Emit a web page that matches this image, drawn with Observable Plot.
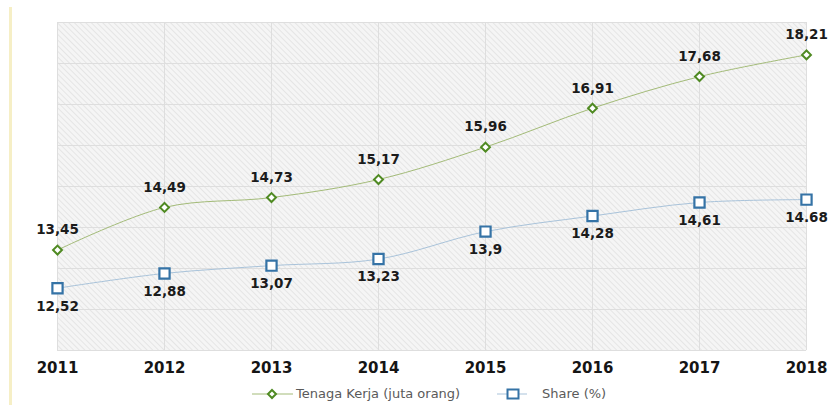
<!DOCTYPE html>
<html>
<head>
<meta charset="utf-8">
<script src="https://cdn.jsdelivr.net/npm/d3@7"></script>
<script src="https://cdn.jsdelivr.net/npm/@observablehq/plot@0.6"></script>
<style>
  body { margin: 0; background: #ffffff; font-family: "DejaVu Sans", sans-serif; }
  #wrap { position: relative; width: 830px; height: 405px; overflow: hidden; }
  #stripe { position: absolute; left: 9px; top: 7px; width: 3px; height: 398px; background: #f6efc6; }
  #chart { position: absolute; left: 0; top: 0; }
  #legend { position: absolute; left: 0; top: 385px; width: 830px; height: 18px; font-size: 13px; color: #5a5a5a; }
  .item { position: absolute; top: 0; height: 18px; white-space: nowrap; }
  .item svg { position: absolute; left: 0; top: 0; }
  .item span { position: absolute; top: 0; line-height: 18px; }
</style>
</head>
<body>
<div id="wrap">
  <div id="stripe"></div>
  <div id="chart"></div>
  <div id="legend"></div>
</div>
<script>
// ---- data ----
const years = [2011, 2012, 2013, 2014, 2015, 2016, 2017, 2018];
const tenagaKerja = [13.45, 14.49, 14.73, 15.17, 15.96, 16.91, 17.68, 18.21];
const share = [12.52, 12.88, 13.07, 13.23, 13.9, 14.28, 14.61, 14.68];
const tenagaLabels = ["13,45", "14,49", "14,73", "15,17", "15,96", "16,91", "17,68", "18,21"];
const shareLabels = ["12,52", "12,88", "13,07", "13,23", "13,9", "14,28", "14,61", "14.68"];
const gridValues = [11, 12, 13, 14, 15, 16, 17, 18, 19];
const seriesNames = ["Tenaga Kerja (juta orang)", "Share (%)"];

const tkRows = years.map((y, i) => ({year: y, value: tenagaKerja[i], label: tenagaLabels[i]}));
const shRows = years.map((y, i) => ({year: y, value: share[i], label: shareLabels[i]}));

const green = "#4f8a22", greenLine = "#a3bb78";
const blue = "#3573a6", blueLine = "#a9c3da";

const plot = Plot.plot({
  width: 830,
  height: 380,
  marginTop: 22,
  marginBottom: 30,
  marginLeft: 57,
  marginRight: 24,
  style: {fontFamily: "DejaVu Sans", background: "transparent"},
  x: {type: "point", domain: years, padding: 0},
  y: {domain: [11, 19], axis: null},
  marks: [
    Plot.frame({fill: "url(#hatch)", stroke: null}),
    Plot.ruleY(gridValues, {stroke: "#dedede", strokeWidth: 1}),
    Plot.ruleX(years, {stroke: "#dedede", strokeWidth: 1}),
    Plot.line(tkRows, {x: "year", y: "value", stroke: greenLine, strokeWidth: 1, curve: "catmull-rom"}),
    Plot.line(shRows, {x: "year", y: "value", stroke: blueLine, strokeWidth: 1, curve: "catmull-rom"}),
    Plot.dot(tkRows, {x: "year", y: "value", symbol: "diamond2", r: 4, stroke: green, strokeWidth: 2, fill: "white"}),
    Plot.dot(shRows, {x: "year", y: "value", symbol: "square2", r: 6.5, stroke: blue, strokeWidth: 2.2, fill: "white"}),
    Plot.text(tkRows, {x: "year", y: "value", text: "label", dy: -20, fontSize: 13.5, fontWeight: "bold", fill: "#1b1b1b"}),
    Plot.text(shRows, {x: "year", y: "value", text: "label", dy: 18, fontSize: 13.5, fontWeight: "bold", fill: "#1b1b1b"}),
    Plot.axisX({tickSize: 0, tickPadding: 12, fontSize: 15, fontWeight: "bold", fill: "#151515", label: null, tickFormat: d => String(d)})
  ]
});

// hatch pattern for plot area
const ns = "http://www.w3.org/2000/svg";
const defs = document.createElementNS(ns, "defs");
defs.innerHTML = '<pattern id="hatch" width="4" height="4" patternUnits="userSpaceOnUse" patternTransform="rotate(-45)">' +
  '<rect width="4" height="4" fill="#f5f5f5"/>' +
  '<line x1="0" y1="0" x2="0" y2="4" stroke="#e2e2e2" stroke-width="1.6"/></pattern>';
plot.insertBefore(defs, plot.firstChild);
document.getElementById("chart").appendChild(plot);

// legend
const legend = document.getElementById("legend");
const items = [
  {name: seriesNames[0], left: 252, lineEnd: 41, mx: 20, textX: 44, line: greenLine, stroke: green, shape: "diamond"},
  {name: seriesNames[1], left: 497, lineEnd: 30, mx: 16, textX: 45, line: blueLine, stroke: blue, shape: "square"}
];
items.forEach(it => {
  const div = document.createElement("div");
  div.className = "item";
  div.style.left = it.left + "px";
  const marker = it.shape === "diamond"
    ? `<path d="M${it.mx},5 L${it.mx + 4},9 L${it.mx},13 L${it.mx - 4},9 Z" fill="white" stroke="${it.stroke}" stroke-width="2"/>`
    : `<rect x="${it.mx - 5.5}" y="4.5" width="11" height="9" fill="white" stroke="${it.stroke}" stroke-width="2"/>`;
  div.innerHTML = `<svg width="${it.lineEnd + 2}" height="18"><line x1="0" y1="9" x2="${it.lineEnd}" y2="9" stroke="${it.line}" stroke-width="1"/>${marker}</svg><span style="left:${it.textX}px">${it.name}</span>`;
  legend.appendChild(div);
});
</script>
</body>
</html>
